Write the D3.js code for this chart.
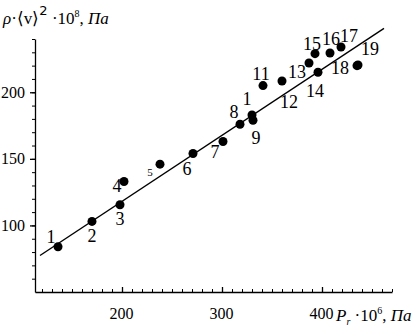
<!DOCTYPE html>
<html>
<head>
<meta charset="utf-8">
<script src="https://cdn.jsdelivr.net/npm/d3@7"></script>
<style>
  body { margin: 0; background: #fff; }
  svg { display: block; }
</style>
</head>
<body>
<div id="chart"></div>
<script>
// point labels as printed next to each dot
const labels = ["1", "2", "3", "4", "5", "6", "7", "8", "1", "9", "11", "12", "13", "14", "15", "16", "17", "18", "19"];
// P_r * 10^6, Pa
const pr = [136, 170, 198, 202, 238, 271, 301, 318, 330, 331, 341, 360, 387, 396, 393, 408, 419, 435, 436];
// rho*<v>^2 * 10^8, Pa
const rhoV2 = [84, 103, 115.5, 133, 146, 154, 163, 176, 183, 179, 205, 208.5, 222, 215, 229, 229.5, 234, 220, 220.5];
// fitted line end points
const fitPr = [118, 462];
const fitRho = [77.4, 248];
const xTicks = [200, 300, 400];
const yTicks = [100, 150, 200];

// where each label sits relative to its dot (px)
const labelDx = [-7, 0, 0, -7, -10, -6, -8, -6, -5, 3, -2, 7, -12, -3, -3, 1, 8, -17, 12];
const labelDy = [-4, 21, 20, 11, 12, 21, 16, -6, -10, 24, -6, 27, 15, 25, -4, -8, -5, 8, -10];

var serif = "'Liberation Serif'";

var width = 416,
    height = 330;

var x = d3.scaleLinear()
    .domain([113, 470])
    .range([35, 392]);

var y = d3.scaleLinear()
    .domain([50, 240])
    .range([292, 39]);

var svg = d3.select("#chart")
    .append("svg")
    .attr("width", width)
    .attr("height", height);

// minor ticks
svg.append("g")
    .attr("transform", "translate(0," + y(50) + ")")
    .call(d3.axisBottom(x).tickValues(d3.range(120, 471, 10)).tickSize(-3).tickFormat("").tickSizeOuter(0))
    .call(g => g.select(".domain").remove());
svg.append("g")
    .attr("transform", "translate(" + x(113) + ",0)")
    .call(d3.axisLeft(y).tickValues(d3.range(60, 241, 10)).tickSize(3).tickFormat("").tickSizeOuter(0))
    .call(g => g.select(".domain").remove());

// major axes
var xAxis = svg.append("g")
    .attr("transform", "translate(0," + y(50) + ")")
    .call(d3.axisBottom(x).tickValues(xTicks).tickSize(-5).tickPadding(16).tickSizeOuter(0));
var yAxis = svg.append("g")
    .attr("transform", "translate(" + x(113) + ",0)")
    .call(d3.axisLeft(y).tickValues(yTicks).tickSize(5).tickPadding(5).tickSizeOuter(0));

[xAxis, yAxis].forEach(g => {
    g.selectAll("text").style("font-family", serif).style("font-size", "16px");
    g.selectAll("line, path").attr("stroke", "#000").attr("stroke-width", 1.3);
});
xAxis.selectAll("text").attr("dx", -1);

// fitted line
svg.append("line")
    .attr("x1", x(fitPr[0]))
    .attr("y1", y(fitRho[0]))
    .attr("x2", x(fitPr[1]))
    .attr("y2", y(fitRho[1]))
    .attr("stroke", "#000")
    .attr("stroke-width", 1.4);

// dots
svg.selectAll("circle.pt")
    .data(pr)
    .enter()
    .append("circle")
    .attr("class", "pt")
    .attr("cx", d => x(d))
    .attr("cy", (d, i) => y(rhoV2[i]))
    .attr("r", 4.5)
    .attr("fill", "#000");

// point numbers
svg.selectAll("text.lbl")
    .data(labels)
    .enter()
    .append("text")
    .attr("class", "lbl")
    .attr("x", (d, i) => x(pr[i]) + labelDx[i])
    .attr("y", (d, i) => y(rhoV2[i]) + labelDy[i])
    .attr("text-anchor", "middle")
    .style("font-family", serif)
    .style("font-size", (d, i) => i == 4 ? "11px" : "18px")
    .text(d => d);

// y title
var yt = svg.append("text")
    .attr("x", 3)
    .attr("y", 24)
    .style("font-family", serif)
    .style("font-size", "17px");
yt.append("tspan").style("font-style", "italic").text("ρ");
yt.append("tspan").text("·⟨v⟩");
yt.append("tspan").attr("dy", -9).style("font-size", "13px").style("font-family", "'DejaVu Sans'").text("2");
yt.append("tspan").attr("dy", 9).text(" ·10");
yt.append("tspan").attr("dy", -7).style("font-size", "10px").text("8");
yt.append("tspan").attr("dy", 7).text(", ");
yt.append("tspan").style("font-style", "italic").text("Па");

// x title
var xt = svg.append("text")
    .attr("x", 336)
    .attr("y", 321)
    .style("font-family", serif)
    .style("font-size", "17px");
xt.append("tspan").style("font-style", "italic").text("P");
xt.append("tspan").attr("dy", 4).style("font-size", "10px").style("font-style", "italic").text("r");
xt.append("tspan").attr("dy", -4).text(" ·10");
xt.append("tspan").attr("dy", -7).style("font-size", "10px").text("6");
xt.append("tspan").attr("dy", 7).text(", ");
xt.append("tspan").style("font-style", "italic").text("Па");
</script>
</body>
</html>
